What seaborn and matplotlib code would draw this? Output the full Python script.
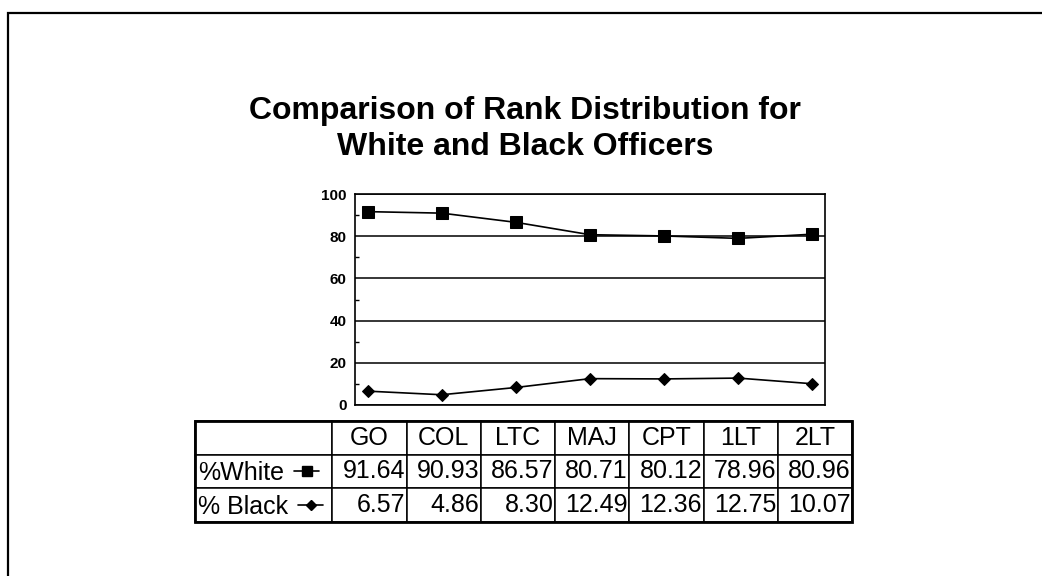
import numpy as np
import pandas as pd
import matplotlib.pyplot as plt
import seaborn as sns
from matplotlib.patches import Rectangle
from matplotlib.lines import Line2D

ranks = ["GO", "COL", "LTC", "MAJ", "CPT", "1LT", "2LT"]
pct_white = [91.64, 90.93, 86.57, 80.71, 80.12, 78.96, 80.96]
pct_black = [6.57, 4.86, 8.30, 12.49, 12.36, 12.75, 10.07]
series_labels = ["%White", "% Black"]
title = "Comparison of Rank Distribution for\nWhite and Black Officers"

sns.set_style("white")
plt.rcParams['font.family'] = ['Liberation Sans', 'DejaVu Sans']
plt.rcParams.update({"text.color": "black", "ytick.color": "black",
                     "xtick.color": "black", "axes.labelcolor": "black"})

W, H = 1042, 576
fig = plt.figure(figsize=(W / 100, H / 100), dpi=100)


def px_box(x0, y0, x1, y1):
    # pixel box (top-left origin) -> figure fraction rect
    return [x0 / W, 1 - y1 / H, (x1 - x0) / W, (y1 - y0) / H]


# outer frame of the slide
fig.patches.append(Rectangle((8 / W, -0.2), 1.2, 1 - 13 / H + 0.2,
                             transform=fig.transFigure, fill=False,
                             edgecolor="black", linewidth=1.6))

fig.text(525 / W, 1 - 129 / H, title, ha="center", va="center",
         fontsize=23, fontweight="bold", linespacing=1.25)

# line chart
ax = fig.add_axes(px_box(355, 194, 825, 405))
df = pd.DataFrame({"rank": ranks, "white": pct_white, "black": pct_black})
sns.lineplot(data=df, x="rank", y="white", ax=ax, color="black", lw=1.2,
             marker="s", markersize=9, markeredgecolor="black", sort=False)
sns.lineplot(data=df, x="rank", y="black", ax=ax, color="black", lw=1.2,
             marker="D", markersize=6.5, markeredgecolor="black", sort=False)

ax.set_xlim(-0.17, len(ranks) - 1 + 0.17)
ax.set_ylim(0, 100)
ax.set_yticks(np.arange(0, 101, 20))
ax.set_yticks(np.arange(10, 100, 20), minor=True)
ax.set_xticks([])
ax.set_xlabel("")
ax.set_ylabel("")
ax.yaxis.grid(True, which="major", color="black", lw=1.1)
ax.tick_params(axis="y", which="major", length=0, pad=6, labelsize=11)
ax.tick_params(axis="y", which="minor", direction="in", length=3, width=1,
               left=True)
for lab in ax.get_yticklabels():
    lab.set_fontweight("bold")
for sp in ax.spines.values():
    sp.set_visible(True)
    sp.set_color("black")
    sp.set_linewidth(1.2)

# data table below the chart
tax = fig.add_axes(px_box(195, 421, 852, 522))
tax.axis("off")
cell_text = [[""] + ranks,
             [""] + [f"{v:.2f}" for v in pct_white],
             [""] + [f"{v:.2f}" for v in pct_black]]
col_w = [137] + [74] * len(ranks)
tab = tax.table(cellText=cell_text, colWidths=[c / sum(col_w) for c in col_w],
                bbox=[0, 0, 1, 1], cellLoc="right")
tab.auto_set_font_size(False)
for (r, c), cell in tab.get_celld().items():
    cell.set_fontsize(18)
    cell.set_linewidth(1.1)
    cell.PAD = 0.02
    if r == 0:
        cell._loc = "center"
        cell.get_text().set_ha("center")
tax.add_patch(Rectangle((0, 0), 1, 1, transform=tax.transAxes, fill=False,
                        edgecolor="black", linewidth=2, clip_on=False))

# row labels with legend keys inside the first column
handles = [Line2D([], [], color="black", lw=1.2, marker="s", markersize=7),
           Line2D([], [], color="black", lw=1.2, marker="D", markersize=5)]
leg = fig.legend(handles, series_labels, markerfirst=False, frameon=False,
                 loc="upper left", bbox_to_anchor=(198 / W, 1 - 461 / H),
                 fontsize=18, handlelength=1.0, handletextpad=0.4,
                 labelspacing=0.38, borderpad=0, borderaxespad=0)
# left-align the label+key entries (text starts at the cell edge)
for col in leg._legend_handle_box.get_children():
    col.align = "left"

fig.savefig("out.png", dpi=100)
